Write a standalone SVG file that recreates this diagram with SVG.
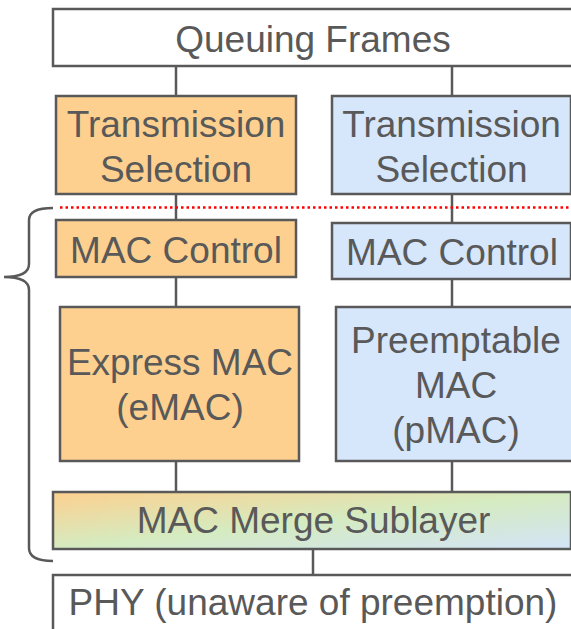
<svg xmlns="http://www.w3.org/2000/svg" width="571" height="629" viewBox="0 0 571 629">
<defs>
<linearGradient id="mergeGrad" x1="0" y1="0" x2="1" y2="1">
<stop offset="0" stop-color="#FDD08F"/>
<stop offset="0.5" stop-color="#D5EBC0"/>
<stop offset="1" stop-color="#D3E4F8"/>
</linearGradient>
<style>
.box{stroke:#595959;stroke-width:2.5}
.white{fill:#FFFFFF}
.orange{fill:#FDD08F}
.blue{fill:#D6E6FB}
.lbl{font-family:"Liberation Sans",Arial,sans-serif;font-size:37px;fill:#595959;text-anchor:middle}
.conn{stroke:#595959;stroke-width:2.5;fill:none}
</style>
</defs>
<rect width="571" height="629" fill="#FFFFFF"/>
<g id="connectors">
<line class="conn" x1="176" y1="66" x2="176" y2="96"/>
<line class="conn" x1="452" y1="66" x2="452" y2="96"/>
<line class="conn" x1="176" y1="194" x2="176" y2="220"/>
<line class="conn" x1="452" y1="194" x2="452" y2="223"/>
<line class="conn" x1="176" y1="277" x2="176" y2="307"/>
<line class="conn" x1="452" y1="279" x2="452" y2="307"/>
<line class="conn" x1="176" y1="461" x2="176" y2="492"/>
<line class="conn" x1="452" y1="461" x2="452" y2="492"/>
<line class="conn" x1="313" y1="549" x2="313" y2="575"/>
</g>
<g id="boundary">
<line x1="60" y1="207.5" x2="571" y2="207.5" stroke="#FF0000" stroke-width="2.5" stroke-dasharray="2.5 3"/>
<path class="conn" d="M53 208 Q29 208 29 220 L29 264 Q29 277 4 277 Q29 277 29 290 L29 548 Q29 561 53 561"/>
</g>
<g id="queuing">
<rect class="box white" x="53" y="9" width="522" height="57"/>
<text class="lbl" x="313" y="52">Queuing Frames</text>
</g>
<g id="ts-express">
<rect class="box orange" x="56" y="96" width="240" height="98"/>
<text class="lbl" x="176" y="137">Transmission</text>
<text class="lbl" x="176" y="182">Selection</text>
</g>
<g id="ts-preempt">
<rect class="box blue" x="332" y="96" width="239" height="98"/>
<text class="lbl" x="451.5" y="137">Transmission</text>
<text class="lbl" x="451.5" y="182">Selection</text>
</g>
<g id="macctl-express">
<rect class="box orange" x="56" y="220" width="240" height="57"/>
<text class="lbl" x="176" y="263">MAC Control</text>
</g>
<g id="macctl-preempt">
<rect class="box blue" x="332" y="223" width="239" height="56"/>
<text class="lbl" x="452" y="265">MAC Control</text>
</g>
<g id="emac">
<rect class="box orange" x="60" y="307" width="239" height="154"/>
<text class="lbl" x="180" y="375">Express MAC</text>
<text class="lbl" x="180" y="420">(eMAC)</text>
</g>
<g id="pmac">
<rect class="box blue" x="336" y="307" width="240" height="154"/>
<text class="lbl" x="456" y="353">Preemptable</text>
<text class="lbl" x="456" y="398">MAC</text>
<text class="lbl" x="456" y="443">(pMAC)</text>
</g>
<g id="merge">
<rect class="box" fill="url(#mergeGrad)" x="53" y="492" width="518" height="57"/>
<text class="lbl" x="313.5" y="533">MAC Merge Sublayer</text>
</g>
<g id="phy">
<rect class="box white" x="53" y="575" width="522" height="70"/>
<text class="lbl" x="313" y="615">PHY (unaware of preemption)</text>
</g>
</svg>
